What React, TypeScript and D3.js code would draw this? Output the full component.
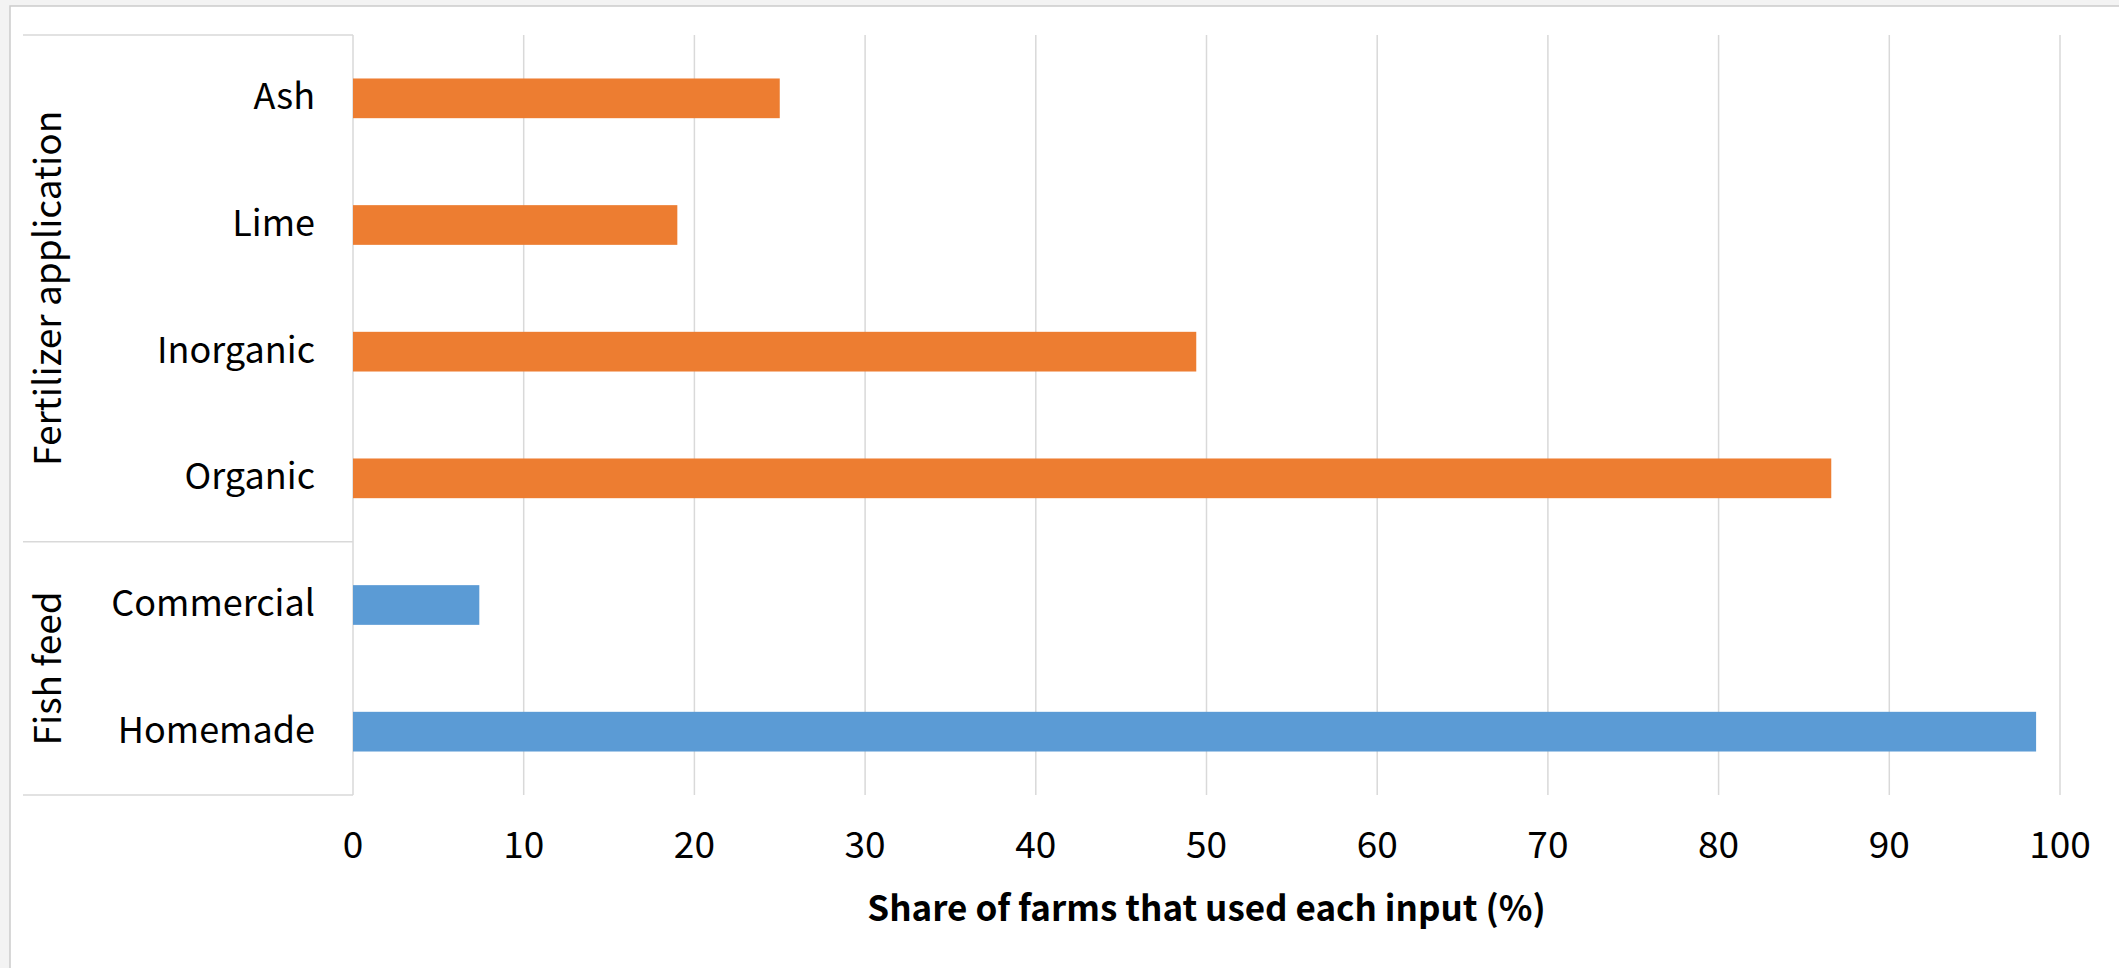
import React from "react";
import * as d3 from "d3";

const categories = ["Ash", "Lime", "Inorganic", "Organic", "Commercial", "Homemade"];
const values = [25, 19, 49.4, 86.6, 7.4, 98.6];
const groupOf = ["Fertilizer application", "Fertilizer application", "Fertilizer application", "Fertilizer application", "Fish feed", "Fish feed"];
const groups = ["Fertilizer application", "Fish feed"];
const groupColors = ["#ED7D31", "#5B9BD5"];
const xTicks = [0, 10, 20, 30, 40, 50, 60, 70, 80, 90, 100];
const xTitle = "Share of farms that used each input (%)";

const W = 2119;
const H = 968;
const FONT = "'Noto Sans CJK JP', 'Noto Sans', sans-serif";

export default function App() {
  const left = 353;
  const right = 2060;
  const top = 35;
  const bottom = 795;
  const x = d3.scaleLinear().domain([0, 100]).range([left, right]);
  const y = d3.scaleBand<string>().domain(categories).range([top, bottom]).paddingInner(0.6866).paddingOuter(0.3433);
  const band = d3.scaleBand<string>().domain(categories).range([top, bottom]);
  const bw = band.bandwidth();

  const groupExtents = groups.map((g) => {
    const idx = categories.map((c, i) => i).filter((i) => groupOf[i] === g);
    const y0 = band(categories[idx[0]])!;
    const y1 = band(categories[idx[idx.length - 1]])! + bw;
    return { g, y0, y1 };
  });

  return (
    <svg width={W} height={H} style={{ display: "block", position: "absolute", left: 0, top: 0 }}>
      <rect x={0} y={0} width={W} height={H} fill="#f3f3f3" />
      <rect x={10} y={6} width={W + 20} height={H + 20} fill="#ffffff" stroke="#cccccc" strokeWidth={1.5} />
      {xTicks.map((t) => (
        <line key={"g" + t} x1={x(t)} x2={x(t)} y1={top} y2={bottom} stroke="#d9d9d9" strokeWidth={1.5} />
      ))}
      <line x1={23} x2={left} y1={top} y2={top} stroke="#d9d9d9" strokeWidth={1.5} />
      {groupExtents.map((e) => (
        <line key={"sep" + e.g} x1={23} x2={left} y1={e.y1} y2={e.y1} stroke="#d9d9d9" strokeWidth={1.5} />
      ))}
      {categories.map((c, i) => (
        <rect
          key={c}
          x={x(0)}
          y={y(c)!}
          width={x(values[i]) - x(0)}
          height={y.bandwidth()}
          fill={groupColors[groups.indexOf(groupOf[i])]}
        />
      ))}
      {categories.map((c) => (
        <text
          key={"l" + c}
          x={315}
          y={band(c)! + bw / 2 + 11}
          textAnchor="end"
          fontFamily={FONT}
          fontSize={36}
          fill="#000"
        >
          {c}
        </text>
      ))}
      {groupExtents.map((e) => (
        <text
          key={"gl" + e.g}
          transform={`translate(61,${(e.y0 + e.y1) / 2}) rotate(-90)`}
          textAnchor="middle"
          fontFamily={FONT}
          fontSize={37}
          fill="#000"
        >
          {e.g}
        </text>
      ))}
      {xTicks.map((t) => (
        <text key={"t" + t} x={x(t)} y={858} textAnchor="middle" fontFamily={FONT} fontSize={37} fill="#000">
          {t}
        </text>
      ))}
      <text x={(left + right) / 2} y={921} textAnchor="middle" fontFamily={FONT} fontSize={35} fontWeight={700} fill="#000">
        {xTitle}
      </text>
    </svg>
  );
}
